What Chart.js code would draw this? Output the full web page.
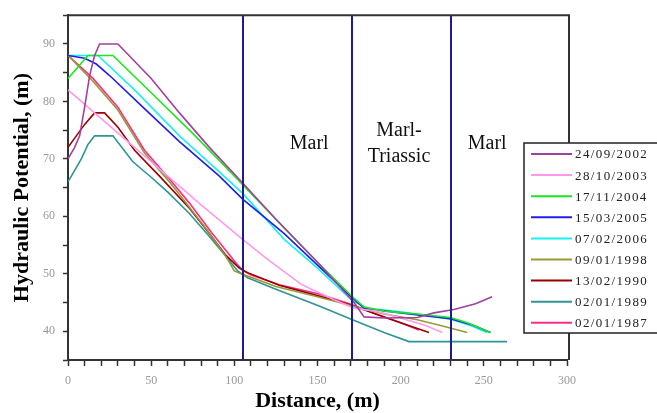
<!DOCTYPE html>
<html>
<head>
<meta charset="utf-8">
<script src="https://cdn.jsdelivr.net/npm/chart.js@4.4.1/dist/chart.umd.min.js"></script>
<style>
  html, body { margin: 0; padding: 0; background: #fff; }
  canvas { display: block; }
</style>
</head>
<body>
<canvas id="potentialChart" width="657" height="413"></canvas>
<script>
// Series: [distance (m), hydraulic potential (m)]
const s24092002 = [[0,70],[4,72],[7,74],[10,79],[13,84.5],[16,88],[19,90],[30,90],[50,84],[67,78],[85,72],[105,65.8],[125,59.5],[150,52],[172,45],[178,42.5],[190,42.3],[210,42.4],[220,43.2],[232,43.8],[245,44.8],[255,46]];
const s28102003 = [[0,82],[20,77],[40,72],[60,67],[80,62],[105,56],[120,52.5],[140,48.2],[160,45.5],[172,44],[185,43.5],[200,42.3],[215,41],[225,39.8]];
const s17112004 = [[0,84],[6,86],[12,88],[27,88],[50,81.5],[73,75],[90,70],[105,65.5],[130,58],[150,52],[171,46],[178,44.2],[190,43.5],[210,43],[230,42.4],[240,41.5],[254,39.8]];
const s15032005 = [[0,88],[10,87.5],[17,86.5],[25,84.5],[45,79],[67,73],[91,67],[105,63],[130,57],[150,51.5],[171,45.8],[178,44],[200,43.2],[230,42.2],[242,41.2],[254,39.8]];
const s07022006 = [[0,88],[18,88],[40,82],[67,74],[90,68],[105,64],[130,56],[150,51],[171,45.3],[180,44],[200,43.4],[230,42.1],[242,41],[252,39.8]];
const s09011998 = [[0,88],[15,83.5],[30,78.5],[46,71],[61,66],[73,61.6],[84,57.5],[95,53],[100,50.5],[104,50],[110,49.4],[125,47.8],[150,46],[171,44.4],[190,43],[210,42],[224,41],[240,39.8]];
const s13021990 = [[0,72],[5,74],[10,76],[16,78],[22,78],[30,75.5],[40,71.5],[55,67],[73,61.4],[85,57],[95,53.2],[103,51],[108,50.2],[127,48],[150,46.2],[171,44.5],[185,43],[200,41.5],[217,39.8]];
const s02011989 = [[0,66],[4,68],[8,70],[12,72.5],[16,74],[27,74],[39,69.5],[50,66.8],[60,64.2],[73,60.5],[85,56.5],[95,53],[102,50.5],[108,49.3],[125,47.3],[151,44.4],[171,42],[190,39.8],[205,38.2],[264,38.2]];
const s02011987 = [[0,88],[15,84],[30,79],[46,71.5],[61,66.5],[73,62.3],[86.5,57.1],[101.5,51.7],[105,50.6],[110,49.8],[127,48.1],[151,46.5],[171,44.6],[185,43],[200,41.5],[211,40.2]];

const seriesLabels = ['24/09/2002','28/10/2003','17/11/2004','15/03/2005','07/02/2006','09/01/1998','13/02/1990','02/01/1989','02/01/1987'];
const seriesData = [s24092002, s28102003, s17112004, s15032005, s07022006, s09011998, s13021990, s02011989, s02011987];
const seriesColors = ['#a040a0','#ff99ee','#1ee61e','#2020e8','#19f0f0','#999933','#990000','#2e9494','#ff2a8a'];

// Formation boundaries (distance, m) and zone names
const boundaries = [105, 171, 230];
const zoneNames = [['Marl'], ['Marl-', 'Triassic'], ['Marl']];
const zoneNameX = [145, 199, 252];
const zoneNameY = 72.7;

const xMin = 0, xMax = 300, xStep = 10, xLabelEvery = 50;
const yMin = 35, yMax = 95, yStep = 5, yLabelEvery = 10;

const SERIF = '"Liberation Serif", "Times New Roman", serif';

const datasets = seriesData.map((pts, i) => ({
    label: seriesLabels[i],
    data: pts.map(p => ({ x: p[0], y: p[1] })),
    borderColor: seriesColors[i],
    backgroundColor: seriesColors[i],
    borderWidth: 1.6,
    pointRadius: 0,
    showLine: true,
    tension: 0,
    fill: false
}));

// Frame, boundaries, zone names, axis titles and legend box
const decorations = {
    id: 'decorations',
    afterDatasetsDraw(chart) {
        const { ctx, chartArea: a, scales: { x, y } } = chart;
        ctx.save();
        // boundaries
        ctx.strokeStyle = '#1c1c8c';
        ctx.lineWidth = 2;
        boundaries.forEach(b => {
            const px = Math.round(x.getPixelForValue(b));
            ctx.beginPath();
            ctx.moveTo(px, a.top);
            ctx.lineTo(px, a.bottom);
            ctx.stroke();
        });
        // frame top / right
        ctx.strokeStyle = '#333';
        ctx.lineWidth = 2;
        ctx.beginPath();
        ctx.moveTo(a.left, a.top);
        ctx.lineTo(a.right + 2, a.top);
        ctx.lineTo(a.right + 2, a.bottom);
        ctx.stroke();
        // zone names
        ctx.fillStyle = '#111';
        ctx.font = '20px ' + SERIF;
        ctx.textAlign = 'center';
        ctx.textBaseline = 'middle';
        zoneNames.forEach((lines, i) => {
            const cx = x.getPixelForValue(zoneNameX[i]);
            const cy = y.getPixelForValue(zoneNameY);
            const gap = 26;
            lines.forEach((t, j) => {
                ctx.fillText(t, cx, cy + (j - (lines.length - 1) / 2) * gap);
            });
        });
        // axis titles
        ctx.font = 'bold 22px ' + SERIF;
        ctx.fillStyle = '#000';
        ctx.fillText('Distance, (m)', (a.left + a.right) / 2, 401);
        ctx.translate(22, (a.top + a.bottom) / 2);
        ctx.rotate(-Math.PI / 2);
        ctx.fillText('Hydraulic Potential, (m)', 0, 0);
        ctx.restore();

        // legend
        ctx.save();
        ctx.fillStyle = '#fff';
        ctx.fillRect(524, 143, 140, 190);
        ctx.strokeStyle = '#222';
        ctx.lineWidth = 1.5;
        ctx.strokeRect(524, 143, 140, 190);
        ctx.font = '13px ' + SERIF;
        ctx.textAlign = 'left';
        ctx.textBaseline = 'middle';
        if ('letterSpacing' in ctx) ctx.letterSpacing = '1.4px';
        chart.data.datasets.forEach((ds, i) => {
            const ly = 154 + i * 21.1;
            ctx.strokeStyle = ds.borderColor;
            ctx.lineWidth = 2;
            ctx.beginPath();
            ctx.moveTo(531, ly);
            ctx.lineTo(572, ly);
            ctx.stroke();
            ctx.fillStyle = '#222';
            ctx.fillText(ds.label, 575, ly + 1);
        });
        ctx.restore();
    }
};

new Chart(document.getElementById('potentialChart'), {
    type: 'scatter',
    data: { datasets: datasets },
    options: {
        responsive: false,
        animation: false,
        devicePixelRatio: 1,
        layout: { padding: { left: 0, top: 6, right: 90, bottom: 0 } },
        plugins: {
            legend: { display: false },
            tooltip: { enabled: false }
        },
        scales: {
            x: {
                type: 'linear',
                min: xMin,
                max: xMax,
                afterFit: s => { s.height = 53; },
                border: { color: '#333', width: 2 },
                grid: {
                    drawOnChartArea: false,
                    drawTicks: true,
                    tickLength: 6,
                    tickColor: '#333',
                    tickWidth: 1.5
                },
                ticks: {
                    stepSize: xStep,
                    autoSkip: false,
                    maxRotation: 0,
                    padding: 8,
                    color: '#999',
                    font: { family: SERIF, size: 12 },
                    callback: v => (v % xLabelEvery === 0 ? v : '')
                }
            },
            y: {
                type: 'linear',
                min: yMin,
                max: yMax,
                afterFit: s => { s.width = 68; },
                border: { color: '#333', width: 2 },
                grid: {
                    drawOnChartArea: false,
                    drawTicks: true,
                    tickLength: 5,
                    tickColor: '#333',
                    tickWidth: 1.5
                },
                ticks: {
                    stepSize: yStep,
                    autoSkip: false,
                    padding: 8,
                    color: '#999',
                    font: { family: SERIF, size: 12 },
                    callback: v => (v % yLabelEvery === 0 ? v : '')
                }
            }
        }
    },
    plugins: [decorations]
});
</script>
</body>
</html>
